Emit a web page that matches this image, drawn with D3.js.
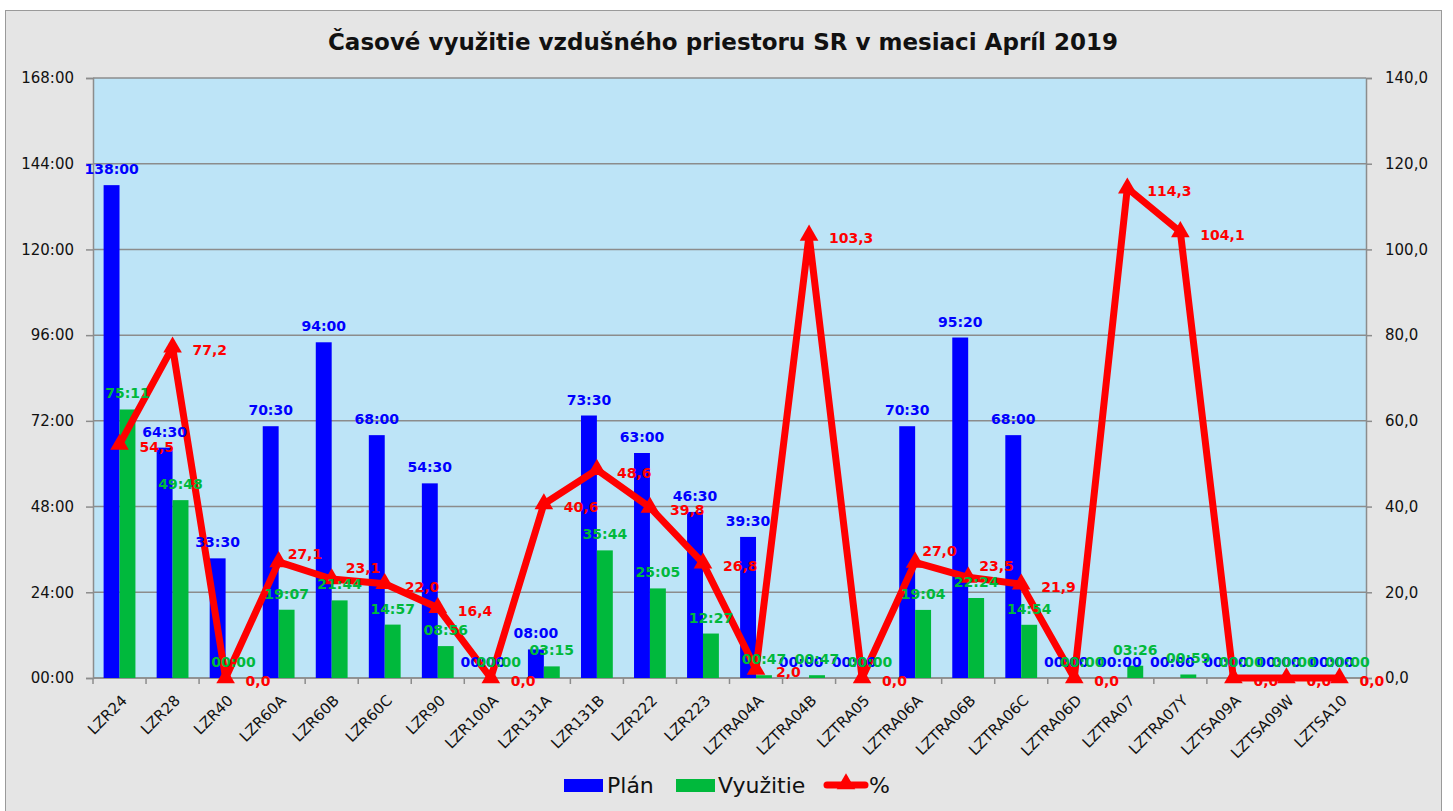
<!DOCTYPE html>
<html>
<head>
<meta charset="utf-8">
<script src="https://cdn.jsdelivr.net/npm/d3@7"></script>
<style>
  body { margin: 0; background: #fff; }
  text { font-family: "DejaVu Sans", Verdana, sans-serif; }
</style>
</head>
<body>
<script>
// data
var categories = ["LZR24","LZR28","LZR40","LZR60A","LZR60B","LZR60C","LZR90","LZR100A","LZR131A","LZR131B","LZR222","LZR223",
  "LZTRA04A","LZTRA04B","LZTRA05","LZTRA06A","LZTRA06B","LZTRA06C","LZTRA06D","LZTRA07","LZTRA07Y","LZTSA09A","LZTSA09W","LZTSA10"];
var plan = ["138:00","64:30","33:30","70:30","94:00","68:00","54:30","00:00","08:00","73:30","63:00","46:30",
  "39:30","00:00","00:00","70:30","95:20","68:00","00:00","00:00","00:00","00:00","00:00","00:00"];
var vyuzitie = ["75:11","49:48","00:00","19:07","21:44","14:57","08:56","00:00","03:15","35:44","25:05","12:27",
  "00:47","00:47","00:00","19:04","22:24","14:54","00:00","03:26","00:59","00:00","00:00","00:00"];
var percent = [54.5,77.2,0.0,27.1,23.1,22.0,16.4,0.0,40.6,48.6,39.8,26.8,
  2.0,103.3,0.0,27.0,23.5,21.9,0.0,114.3,104.1,0.0,0.0,0.0];
var seriesNames = ["Plán","Využitie","%"];
var leftTicksH = [0,24,48,72,96,120,144,168];
var rightTicks = [0,20,40,60,80,100,120,140];

// a few % labels were moved by hand in the original
var pctNudge = {"LZR60A":[-11,-11],"LZR60B":[-6,-14],"LZTRA06A":[-13,-14],"LZTRA06B":[-9,-14]};

var blue = "#0000ff", green = "#00b93c", red = "#ff0000";

function toMin(s){ var p=s.split(":"); return (+p[0])*60 + (+p[1]); }

var svg = d3.select("body").append("svg").attr("width",1453).attr("height",811);

svg.append("rect").attr("x",5.5).attr("y",10.5).attr("width",1436).attr("height",820)
  .attr("fill","#e5e5e5").attr("stroke","#9a9a9a");

var L=93, R=1366, T=78, B=678;

var x = d3.scaleBand().domain(categories).range([L,R]).padding(0);
var bw = x.bandwidth();
var xs = d3.scaleBand().domain(["plan","use"]).range([bw*0.2, bw*0.8]);
var yL = d3.scaleLinear().domain([0,168*60]).range([B,T]);
var yR = d3.scaleLinear().domain([0,140]).range([B,T]);

svg.append("rect").attr("x",L).attr("y",T).attr("width",R-L).attr("height",B-T).attr("fill","#bde4f7");

// gridlines
svg.append("g").selectAll("line").data(leftTicksH).enter().append("line")
  .attr("x1",L).attr("x2",R)
  .attr("y1",function(d){return yL(d*60);}).attr("y2",function(d){return yL(d*60);})
  .attr("stroke","#8c8c8c").attr("stroke-width",1.5);

// left axis
var yAxisL = d3.axisLeft(yL).tickValues(leftTicksH.map(function(h){return h*60;}))
  .tickFormat(function(m){ var h=m/60; return (h<10?"0":"")+h+":00"; })
  .tickSize(7).tickPadding(12);
var gl = svg.append("g").attr("transform","translate("+L+",0)").call(yAxisL);
gl.select(".domain").attr("stroke","#8c8c8c").attr("stroke-width",1.5);
gl.selectAll(".tick line").attr("stroke","#8c8c8c").attr("stroke-width",1.5);
gl.selectAll("text").attr("font-size","15px").attr("fill","#111");

// right axis
var yAxisR = d3.axisRight(yR).tickValues(rightTicks)
  .tickFormat(function(d){ return d.toFixed(1).replace(".",","); })
  .tickSize(6).tickPadding(13);
var gr = svg.append("g").attr("transform","translate("+R+",0)").call(yAxisR);
gr.select(".domain").attr("stroke","#8c8c8c").attr("stroke-width",1.5);
gr.selectAll(".tick line").attr("stroke","#8c8c8c").attr("stroke-width",1.5);
gr.selectAll("text").attr("font-size","15px").attr("fill","#111");

// x axis
var edges = categories.map(function(c){return x(c);}).concat([R]);
svg.append("line").attr("x1",L).attr("x2",R).attr("y1",B).attr("y2",B).attr("stroke","#8c8c8c").attr("stroke-width",1.5);
svg.append("g").selectAll("line").data(edges).enter().append("line")
  .attr("x1",function(d){return d;}).attr("x2",function(d){return d;})
  .attr("y1",B).attr("y2",B+6).attr("stroke","#8c8c8c").attr("stroke-width",1.5);
svg.append("g").selectAll("text").data(categories).enter().append("text")
  .attr("transform",function(c){return "translate("+(x(c)+bw/2+1)+","+(B+16)+") rotate(-45)";})
  .attr("text-anchor","end").attr("dy","0.7em").attr("font-size","15px").attr("fill","#111")
  .text(function(c){return c;});

// bars
var rows = categories.map(function(c,i){ return {c:c, plan:toMin(plan[i]), use:toMin(vyuzitie[i]), planS:plan[i], useS:vyuzitie[i], pct:percent[i]}; });

svg.append("g").selectAll("rect").data(rows).enter().append("rect")
  .attr("x",function(d){return x(d.c)+xs("plan");}).attr("width",xs.bandwidth())
  .attr("y",function(d){return yL(d.plan);}).attr("height",function(d){return B-yL(d.plan);})
  .attr("fill",blue);
svg.append("g").selectAll("rect").data(rows).enter().append("rect")
  .attr("x",function(d){return x(d.c)+xs("use");}).attr("width",xs.bandwidth())
  .attr("y",function(d){return yL(d.use);}).attr("height",function(d){return B-yL(d.use);})
  .attr("fill",green);

// line
var line = d3.line().x(function(d){return x(d.c)+bw/2;}).y(function(d){return yR(d.pct);});
svg.append("path").datum(rows).attr("d",line).attr("fill","none")
  .attr("stroke",red).attr("stroke-width",7).attr("stroke-linejoin","round");
svg.append("g").selectAll("path").data(rows).enter().append("path")
  .attr("d",d3.symbol(d3.symbolTriangle,150))
  .attr("transform",function(d){return "translate("+(x(d.c)+bw/2)+","+yR(d.pct)+")";})
  .attr("fill",red);

// labels
svg.append("g").selectAll("text").data(rows).enter().append("text")
  .attr("x",function(d){return x(d.c)+xs("plan")+xs.bandwidth()/2;})
  .attr("y",function(d){return yL(d.plan)-11;})
  .attr("text-anchor","middle").attr("font-size","14px").attr("font-weight","bold").attr("fill",blue)
  .text(function(d){return d.planS;});
svg.append("g").selectAll("text").data(rows).enter().append("text")
  .attr("x",function(d){return x(d.c)+xs("use")+xs.bandwidth()/2;})
  .attr("y",function(d){return yL(d.use)-11;})
  .attr("text-anchor","middle").attr("font-size","14px").attr("font-weight","bold").attr("fill",green)
  .text(function(d){return d.useS;});
svg.append("g").selectAll("text").data(rows).enter().append("text")
  .attr("x",function(d){var n=pctNudge[d.c]; return x(d.c)+bw/2+20+(n?n[0]:0);})
  .attr("y",function(d){var n=pctNudge[d.c]; return yR(d.pct)+8+(n?n[1]:0);})
  .attr("font-size","14px").attr("font-weight","bold").attr("fill",red)
  .text(function(d){return d.pct.toFixed(1).replace(".",",");});

// title
svg.append("text").attr("x",723).attr("y",50).attr("text-anchor","middle")
  .attr("font-size","23px").attr("font-weight","bold").attr("fill","#111")
  .text("Časové využitie vzdušného priestoru SR v mesiaci Apríl 2019");

// legend
var lg = svg.append("g");
var lx = [564, 676, 824];
var tx = [607, 718, 869];
seriesNames.forEach(function(name,i){
  if (i<2) {
    lg.append("rect").attr("x",lx[i]).attr("y",779).attr("width",39).attr("height",13).attr("fill",i==0?blue:green);
  } else {
    lg.append("line").attr("x1",lx[i]+3).attr("x2",lx[i]+41).attr("y1",785).attr("y2",785)
      .attr("stroke",red).attr("stroke-width",7).attr("stroke-linecap","round");
    lg.append("path").attr("d",d3.symbol(d3.symbolTriangle,150)).attr("transform","translate("+(lx[i]+22)+",784)").attr("fill",red);
  }
  lg.append("text").attr("x",tx[i]).attr("y",793).attr("font-size","22px").attr("fill","#111").text(name);
});
</script>
</body>
</html>
